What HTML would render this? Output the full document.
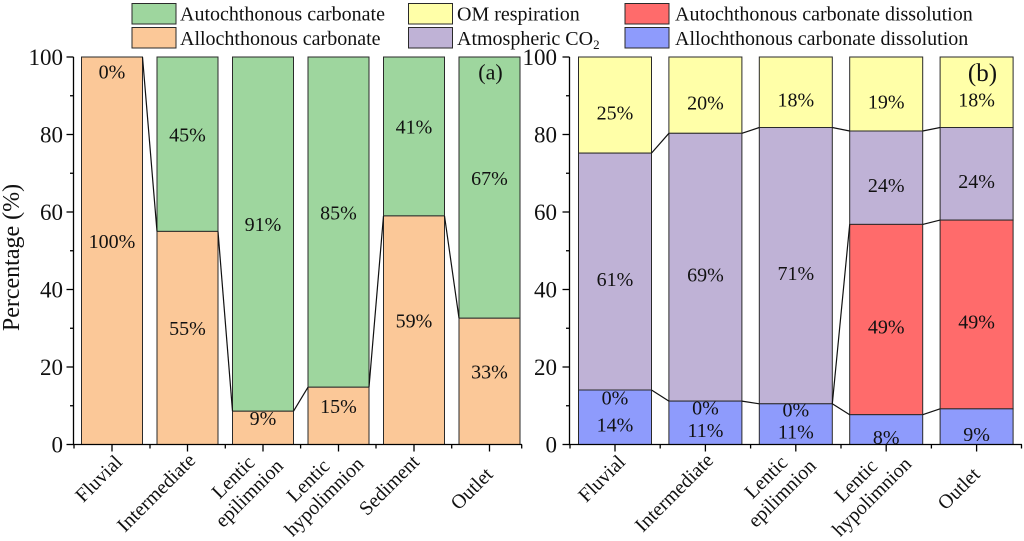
<!DOCTYPE html>
<html>
<head>
<meta charset="utf-8">
<style>
  html, body { margin: 0; padding: 0; background: #ffffff; }
  svg { display: block; }
  text { font-family: "Liberation Serif", "DejaVu Serif", serif; fill: #111; }
</style>
</head>
<body>
<svg width="1024" height="541" viewBox="0 0 1024 541" xmlns="http://www.w3.org/2000/svg">
  <rect x="0" y="0" width="1024" height="541" fill="#ffffff"/>

  <!-- Legend -->
  <g stroke="#2a2a2a" stroke-width="1">
    <rect x="132" y="3.5" width="44" height="20.5" fill="#9ed69e"/>
    <rect x="132" y="27.5" width="44" height="20.5" fill="#fbc898"/>
    <rect x="408.5" y="3.5" width="44" height="20.5" fill="#ffffa8"/>
    <rect x="408.5" y="27.5" width="44" height="20.5" fill="#bfb2d6"/>
    <rect x="625" y="3.5" width="44" height="20.5" fill="#ff6b6b"/>
    <rect x="625" y="27.5" width="44" height="20.5" fill="#8e9bfc"/>
  </g>
  <g font-size="20">
    <text x="180" y="20.5">Autochthonous carbonate</text>
    <text x="180" y="45">Allochthonous carbonate</text>
    <text x="457" y="20.5">OM respiration</text>
    <text x="457" y="45">Atmospheric CO<tspan font-size="13" dy="4">2</tspan></text>
    <text x="675" y="20.5">Autochthonous carbonate dissolution</text>
    <text x="675" y="45">Allochthonous carbonate dissolution</text>
  </g>

  <!-- ===== Panel (a) bars ===== -->
  <g stroke="#2a2a2a" stroke-width="1">
    <rect x="81.5" y="57" width="61" height="387.5" fill="#fbc898"/>
    <rect x="157" y="57" width="61" height="174.4" fill="#9ed69e"/>
    <rect x="157" y="231.4" width="61" height="213.1" fill="#fbc898"/>
    <rect x="232.5" y="57" width="61" height="354.2" fill="#9ed69e"/>
    <rect x="232.5" y="411.2" width="61" height="33.3" fill="#fbc898"/>
    <rect x="308" y="57" width="61" height="330.2" fill="#9ed69e"/>
    <rect x="308" y="387.2" width="61" height="57.3" fill="#fbc898"/>
    <rect x="383.5" y="57" width="61" height="158.9" fill="#9ed69e"/>
    <rect x="383.5" y="215.9" width="61" height="228.6" fill="#fbc898"/>
    <rect x="459" y="57" width="61" height="261.2" fill="#9ed69e"/>
    <rect x="459" y="318.2" width="61" height="126.3" fill="#fbc898"/>
  </g>
  <g stroke="#111" stroke-width="1.2" fill="none">
    <line x1="142.5" y1="57" x2="157" y2="231.4"/>
    <line x1="218" y1="231.4" x2="232.5" y2="411.2"/>
    <line x1="293.5" y1="411.2" x2="308" y2="387.2"/>
    <line x1="369" y1="387.2" x2="383.5" y2="215.9"/>
    <line x1="444.5" y1="215.9" x2="459" y2="318.2"/>
  </g>
  <g font-size="20" text-anchor="middle">
    <text x="112" y="78.4">0%</text>
    <text x="112" y="248">100%</text>
    <text x="187.5" y="141.4">45%</text>
    <text x="187.5" y="335.1">55%</text>
    <text x="263" y="231">91%</text>
    <text x="263" y="425">9%</text>
    <text x="338.5" y="219.4">85%</text>
    <text x="338.5" y="413">15%</text>
    <text x="414" y="133.6">41%</text>
    <text x="414" y="327.4">59%</text>
    <text x="489.5" y="184.8">67%</text>
    <text x="489.5" y="378.5">33%</text>
  </g>
  <text x="490.5" y="79.5" font-size="22" text-anchor="middle">(a)</text>

  <!-- axes (a) -->
  <g stroke="#000" stroke-width="1.3" fill="none">
    <line x1="73.5" y1="57" x2="73.5" y2="445"/>
    <line x1="73" y1="444.5" x2="522" y2="444.5"/>
    <line x1="66.5" y1="444.5" x2="73.5" y2="444.5"/>
    <line x1="66.5" y1="367" x2="73.5" y2="367"/>
    <line x1="66.5" y1="289.5" x2="73.5" y2="289.5"/>
    <line x1="66.5" y1="212" x2="73.5" y2="212"/>
    <line x1="66.5" y1="134.5" x2="73.5" y2="134.5"/>
    <line x1="66.5" y1="57" x2="73.5" y2="57"/>
    <line x1="70" y1="405.75" x2="73.5" y2="405.75"/>
    <line x1="70" y1="328.25" x2="73.5" y2="328.25"/>
    <line x1="70" y1="250.75" x2="73.5" y2="250.75"/>
    <line x1="70" y1="173.25" x2="73.5" y2="173.25"/>
    <line x1="70" y1="95.75" x2="73.5" y2="95.75"/>
    <line x1="112" y1="444.5" x2="112" y2="451.5"/>
    <line x1="187.5" y1="444.5" x2="187.5" y2="451.5"/>
    <line x1="263" y1="444.5" x2="263" y2="451.5"/>
    <line x1="338.5" y1="444.5" x2="338.5" y2="451.5"/>
    <line x1="414" y1="444.5" x2="414" y2="451.5"/>
    <line x1="489.5" y1="444.5" x2="489.5" y2="451.5"/>
    <line x1="74" y1="444.5" x2="74" y2="448.5"/>
    <line x1="150" y1="444.5" x2="150" y2="448.5"/>
    <line x1="225.3" y1="444.5" x2="225.3" y2="448.5"/>
    <line x1="300.6" y1="444.5" x2="300.6" y2="448.5"/>
    <line x1="376" y1="444.5" x2="376" y2="448.5"/>
    <line x1="451.7" y1="444.5" x2="451.7" y2="448.5"/>
    <line x1="521.7" y1="444.5" x2="521.7" y2="448.5"/>
  </g>
  <g font-size="23" text-anchor="end">
    <text x="63" y="452.5">0</text>
    <text x="63" y="375">20</text>
    <text x="63" y="297.5">40</text>
    <text x="63" y="220">60</text>
    <text x="63" y="142.5">80</text>
    <text x="63" y="65">100</text>
  </g>
  <text transform="translate(19,257.5) rotate(-90)" font-size="24" text-anchor="middle">Percentage (%)</text>

  <g font-size="20" text-anchor="middle" dominant-baseline="central">
    <text transform="translate(99,479) rotate(-45)">Fluvial</text>
    <text transform="translate(156.5,493) rotate(-45)">Intermediate</text>
    <text transform="translate(233.5,477.5) rotate(-45)">Lentic</text>
    <text transform="translate(249.5,493.5) rotate(-45)">epilimnion</text>
    <text transform="translate(308.5,481) rotate(-45)">Lentic</text>
    <text transform="translate(324.5,497) rotate(-45)">hypolimnion</text>
    <text transform="translate(389.5,485.5) rotate(-45)">Sediment</text>
    <text transform="translate(472,489) rotate(-45)">Outlet</text>
  </g>

  <!-- ===== Panel (b) bars ===== -->
  <g stroke="#2a2a2a" stroke-width="1">
    <rect x="578.5" y="57" width="73" height="96.1" fill="#ffffa8"/>
    <rect x="578.5" y="153.1" width="73" height="236.9" fill="#bfb2d6"/>
    <rect x="578.5" y="390" width="73" height="54.5" fill="#8e9bfc"/>
    <rect x="668.9" y="57" width="73" height="76.3" fill="#ffffa8"/>
    <rect x="668.9" y="133.3" width="73" height="267.8" fill="#bfb2d6"/>
    <rect x="668.9" y="401.1" width="73" height="43.4" fill="#8e9bfc"/>
    <rect x="759.3" y="57" width="73" height="70.5" fill="#ffffa8"/>
    <rect x="759.3" y="127.5" width="73" height="276.3" fill="#bfb2d6"/>
    <rect x="759.3" y="403.8" width="73" height="40.7" fill="#8e9bfc"/>
    <rect x="849.7" y="57" width="73" height="74" fill="#ffffa8"/>
    <rect x="849.7" y="131" width="73" height="93.4" fill="#bfb2d6"/>
    <rect x="849.7" y="224.4" width="73" height="190.3" fill="#ff6b6b"/>
    <rect x="849.7" y="414.7" width="73" height="29.8" fill="#8e9bfc"/>
    <rect x="940.1" y="57" width="73" height="70.5" fill="#ffffa8"/>
    <rect x="940.1" y="127.5" width="73" height="92.6" fill="#bfb2d6"/>
    <rect x="940.1" y="220.1" width="73" height="188.75" fill="#ff6b6b"/>
    <rect x="940.1" y="408.85" width="73" height="35.65" fill="#8e9bfc"/>
  </g>
  <g stroke="#111" stroke-width="1.2" fill="none">
    <line x1="651.5" y1="390" x2="668.9" y2="401.1"/>
    <line x1="741.9" y1="401.1" x2="759.3" y2="403.8"/>
    <line x1="832.3" y1="403.8" x2="849.7" y2="414.7"/>
    <line x1="922.7" y1="414.7" x2="940.1" y2="408.85"/>
    <line x1="832.3" y1="403.8" x2="849.7" y2="224.4"/>
    <line x1="922.7" y1="224.4" x2="940.1" y2="220.1"/>
    <line x1="651.5" y1="153.1" x2="668.9" y2="133.3"/>
    <line x1="741.9" y1="133.3" x2="759.3" y2="127.5"/>
    <line x1="832.3" y1="127.5" x2="849.7" y2="131"/>
    <line x1="922.7" y1="131" x2="940.1" y2="127.5"/>
  </g>
  <g font-size="20" text-anchor="middle">
    <text x="615" y="119.3">25%</text>
    <text x="615" y="285.8">61%</text>
    <text x="615" y="404.5">0%</text>
    <text x="615" y="431.5">14%</text>

    <text x="705.4" y="109.4">20%</text>
    <text x="705.4" y="281.4">69%</text>
    <text x="705.4" y="414.5">0%</text>
    <text x="705.4" y="437">11%</text>

    <text x="795.8" y="106.5">18%</text>
    <text x="795.8" y="279.9">71%</text>
    <text x="795.8" y="416.5">0%</text>
    <text x="795.8" y="438.4">11%</text>

    <text x="886.2" y="108.5">19%</text>
    <text x="886.2" y="191.9">24%</text>
    <text x="886.2" y="333.7">49%</text>
    <text x="886.2" y="443.8">8%</text>

    <text x="976.6" y="106.5">18%</text>
    <text x="976.6" y="188">24%</text>
    <text x="976.6" y="328.7">49%</text>
    <text x="976.6" y="440.9">9%</text>
  </g>
  <text x="982.5" y="81" font-size="25" text-anchor="middle">(b)</text>

  <!-- axes (b) -->
  <g stroke="#000" stroke-width="1.3" fill="none">
    <line x1="569.5" y1="57" x2="569.5" y2="445"/>
    <line x1="569" y1="444.5" x2="1022" y2="444.5"/>
    <line x1="562.5" y1="444.5" x2="569.5" y2="444.5"/>
    <line x1="562.5" y1="367" x2="569.5" y2="367"/>
    <line x1="562.5" y1="289.5" x2="569.5" y2="289.5"/>
    <line x1="562.5" y1="212" x2="569.5" y2="212"/>
    <line x1="562.5" y1="134.5" x2="569.5" y2="134.5"/>
    <line x1="562.5" y1="57" x2="569.5" y2="57"/>
    <line x1="566" y1="405.75" x2="569.5" y2="405.75"/>
    <line x1="566" y1="328.25" x2="569.5" y2="328.25"/>
    <line x1="566" y1="250.75" x2="569.5" y2="250.75"/>
    <line x1="566" y1="173.25" x2="569.5" y2="173.25"/>
    <line x1="566" y1="95.75" x2="569.5" y2="95.75"/>
    <line x1="615" y1="444.5" x2="615" y2="451.5"/>
    <line x1="705.4" y1="444.5" x2="705.4" y2="451.5"/>
    <line x1="795.8" y1="444.5" x2="795.8" y2="451.5"/>
    <line x1="886.2" y1="444.5" x2="886.2" y2="451.5"/>
    <line x1="976.6" y1="444.5" x2="976.6" y2="451.5"/>
    <line x1="570" y1="444.5" x2="570" y2="448.5"/>
    <line x1="660.2" y1="444.5" x2="660.2" y2="448.5"/>
    <line x1="750.6" y1="444.5" x2="750.6" y2="448.5"/>
    <line x1="841" y1="444.5" x2="841" y2="448.5"/>
    <line x1="931.4" y1="444.5" x2="931.4" y2="448.5"/>
    <line x1="1021.5" y1="444.5" x2="1021.5" y2="448.5"/>
  </g>
  <g font-size="23" text-anchor="end">
    <text x="557" y="452.5">0</text>
    <text x="557" y="375">20</text>
    <text x="557" y="297.5">40</text>
    <text x="557" y="220">60</text>
    <text x="557" y="142.5">80</text>
    <text x="557" y="65">100</text>
  </g>

  <g font-size="20" text-anchor="middle" dominant-baseline="central">
    <text transform="translate(602,479) rotate(-45)">Fluvial</text>
    <text transform="translate(674.4,493) rotate(-45)">Intermediate</text>
    <text transform="translate(766.3,477.5) rotate(-45)">Lentic</text>
    <text transform="translate(782.3,493.5) rotate(-45)">epilimnion</text>
    <text transform="translate(856.2,481) rotate(-45)">Lentic</text>
    <text transform="translate(872.2,497) rotate(-45)">hypolimnion</text>
    <text transform="translate(959.1,489) rotate(-45)">Outlet</text>
  </g>
</svg>
</body>
</html>
